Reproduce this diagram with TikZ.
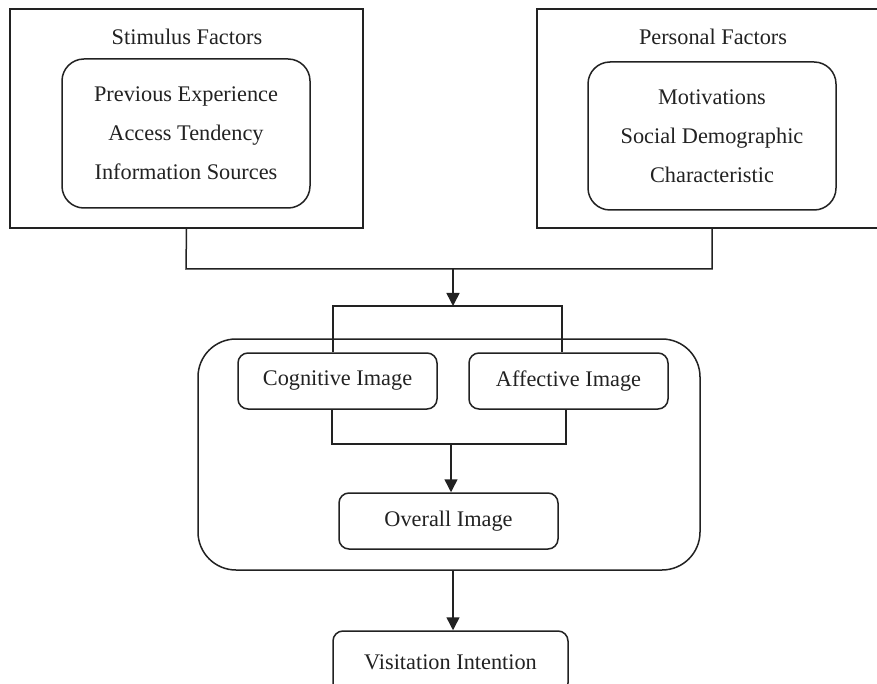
\documentclass[tikz,border=0pt]{standalone}
\usepackage{fontspec}
\setmainfont{Liberation Serif}
\usetikzlibrary{arrows.meta,calc}
\definecolor{ink}{HTML}{222222}
\begin{document}
\begin{tikzpicture}[x=1pt,y=-1pt,
  line/.style={draw=ink, line width=1.5pt},
  txt/.style={font=\fontsize{22.3}{39}\selectfont, text=ink, align=center},
  frame/.style={line, rectangle, inner sep=0pt},
  panel/.style={frame, rounded corners=22pt},
  factor/.style={frame, rounded corners=10pt, txt},
  hub/.style={frame, rounded corners=38pt},
  flow/.style={line, -{Triangle[length=13pt,width=13pt]}}
]
\clip (0,0) rectangle (877,684);
\fill[white] (0,0) rectangle (877,684);

% factor groups at the top
\node[frame, minimum width=353pt, minimum height=219pt] (stim) at (186.5,118.5) {};
\node[txt] (stimT) at (187,37) {Stimulus Factors};
\node[panel, txt, minimum width=248pt, minimum height=149pt] (stimIn) at (186,133.5)
  {Previous Experience\\Access Tendency\\Information Sources};

\node[frame, minimum width=350pt, minimum height=219pt] (pers) at (712,118.5) {};
\node[txt] (persT) at (713,37) {Personal Factors};
\node[panel, txt, minimum width=248pt, minimum height=148pt] (persIn) at (712,136)
  {Motivations\\Social Demographic\\Characteristic};

% destination image block
\node[hub, minimum width=502pt, minimum height=231pt] (img) at (449,454.5) {};
\node[factor, minimum width=199pt, minimum height=56pt] (cog) at (337.5,381) {Cognitive Image};
\node[factor, minimum width=199pt, minimum height=56pt] (aff) at (568.5,381) {Affective Image};
\node[factor, minimum width=219pt, minimum height=56pt] (over) at (448.5,521) {Overall Image};

% outcome
\node[factor, minimum width=235pt, minimum height=62pt] (vis) at (450.5,662) {Visitation Intention};

% joining the two factor groups
\coordinate (jl) at (186,269);
\coordinate (jr) at (712,269);
\coordinate (jm) at (453,269);
\draw[line] (stim.south) -- (jl) -- (jr) -- (pers.south);
\coordinate (bm) at (453,306);
\draw[flow] (jm) -- (bm);

% splitting into cognitive and affective
\coordinate (bl) at (333,306);
\coordinate (br) at (562,306);
\draw[line] (cog.north -| bl) -- (bl) -- (br) -- (aff.north -| br);

% merging into overall image
\coordinate (ml) at (332,444);
\coordinate (mr) at (566,444);
\coordinate (mm) at (451,444);
\draw[line] (cog.south -| ml) -- (ml) -- (mr) -- (aff.south -| mr);
\draw[flow] (mm) -- (mm |- over.north);

% on to visitation intention
\coordinate (out) at (453,570);
\draw[flow] (out) -- (out |- vis.north);
\end{tikzpicture}
\end{document}
